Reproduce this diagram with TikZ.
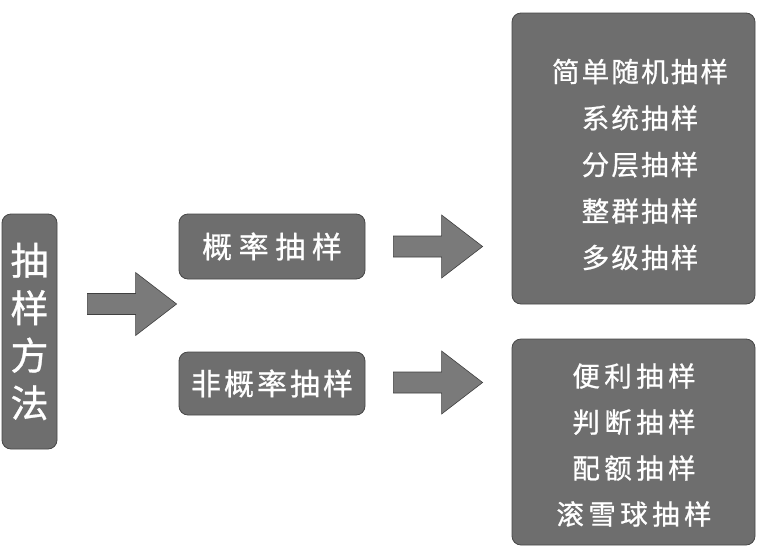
\documentclass[tikz,border=0pt]{standalone}
\usepackage{fontspec}
\newfontfamily\cjk[FakeBold=0.8]{Noto Sans CJK SC}
\usetikzlibrary{calc}
\tikzset{
	greybox/.style={draw=black!72, fill=black!57, line width=0.8pt, rounded corners=9pt, text=white, inner sep=0pt},
	itemtext/.style={text=white, align=center, inner sep=0pt},
	blockarr/.style={draw=black!75, fill=black!52, line width=0.6pt, line join=miter},
}
\def\blockarrow(#1)(#2){\draw[blockarr] ($(#1)+(0,-10.5)$) -- ($(#2)+(-41,-10.5)$) -- ($(#2)+(-41,-31.5)$) -- (#2) -- ($(#2)+(-41,31.5)$) -- ($(#2)+(-41,10.5)$) -- ($(#1)+(0,10.5)$) -- cycle;}

\begin{document}
\begin{tikzpicture}[x=1pt,y=-1pt]
			%%%%% START %%%%%
			
			\useasboundingbox (0,0) rectangle (770,552);
			
			\node[greybox, minimum width=55, minimum height=235, align=center, font=\cjk\fontsize{38}{47.5}\selectfont] (fangfa) at (29.5,331.5) {抽\\样\\方\\法};
			
			\node[greybox, minimum width=186, minimum height=65, font=\cjk\fontsize{30}{36}\selectfont\addfontfeatures{LetterSpace=22}] (gailv) at (272,246.5) {概率抽样};
			\node[greybox, minimum width=186, minimum height=63, font=\cjk\fontsize{30}{36}\selectfont\addfontfeatures{LetterSpace=10}] (feigailv) at (272,383.5) {非概率抽样};
			
			\node[greybox, minimum width=243, minimum height=291] (gailvlist) at (633.5,158.5) {};
			\node[itemtext, font=\cjk\fontsize{27.5}{46.5}\selectfont\addfontfeatures{LetterSpace=8}] (gailvitems) at (640,164.5) {简单随机抽样\\系统抽样\\分层抽样\\整群抽样\\多级抽样};
			
			\node[greybox, minimum width=243, minimum height=206] (feilist) at (633.5,442) {};
			\node[itemtext, font=\cjk\fontsize{27.5}{46}\selectfont\addfontfeatures{LetterSpace=16}] (feiitems) at (634,445) {便利抽样\\判断抽样\\配额抽样\\滚雪球抽样};
			
			\coordinate (a1s) at ($(fangfa.east)+(30,-27.5)$);
			\coordinate (a1e) at ($(a1s -| gailv.west)+(-2,0)$);
			\blockarrow(a1s)(a1e)
			
			\coordinate (a2s) at ($(gailv.east)+(28,0)$);
			\coordinate (a2e) at ($(gailv.east -| gailvlist.west)+(-29,0)$);
			\blockarrow(a2s)(a2e)
			
			\coordinate (a3s) at ($(feigailv.east)+(28,-1)$);
			\coordinate (a3e) at ($(a3s -| feilist.west)+(-29,0)$);
			\blockarrow(a3s)(a3e)
			
			%%%%% END %%%%%
\end{tikzpicture}
\end{document}
